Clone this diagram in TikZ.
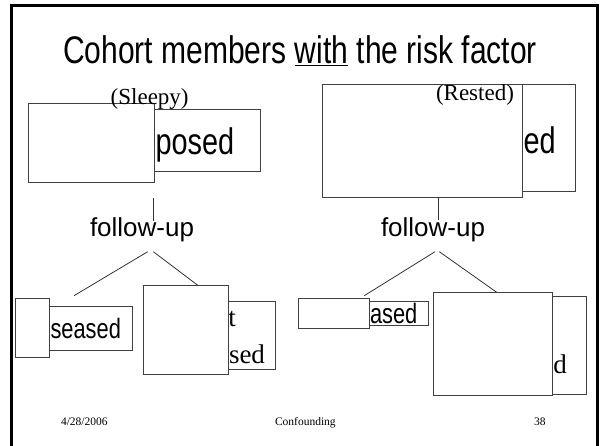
\documentclass[tikz,border=0pt]{standalone}
\usepackage{fontspec}
\setmainfont{Liberation Serif}
\newfontfamily\narrowsans{Liberation Sans}[FakeStretch=0.78]
\newfontfamily\plainsans{Liberation Sans}
\begin{document}
\begin{tikzpicture}[x=1pt,y=-1pt,
  boxstyle/.style={draw=black!75, line width=0.8pt, fill=white, inner sep=0pt, outer sep=0pt, anchor=north west},
  txt/.style={inner sep=0pt, outer sep=0pt, anchor=base west},
  bigsans/.style={txt, font=\narrowsans\fontsize{37}{40}\selectfont},
  midsans/.style={txt, font=\narrowsans\fontsize{28}{31}\selectfont},
  midserif/.style={txt, font=\fontsize{27}{30}\selectfont},
  labserif/.style={txt, font=\fontsize{23}{26}\selectfont},
  fusans/.style={txt, font=\plainsans\fontsize{26}{30}\selectfont},
  foot/.style={txt, font=\fontsize{11.5}{13}\selectfont},
  link/.style={draw=black!80, line width=0.8pt}]
\useasboundingbox (0,0) rectangle (600,446);
\fill[white] (0,0) rectangle (600,446);
% frame
\draw[line width=3pt, black] (11.5,6) -- (597,6) -- (597,470);
\draw[line width=3pt, black] (11.5,4.5) -- (11.5,470);
% title
\node[inner sep=0pt, anchor=base, font=\narrowsans\fontsize{38.5}{42}\selectfont] (title) at (300,64) {Cohort members \underline{with} the risk factor};
% back boxes and their texts
\node[boxstyle, minimum width=106.4pt, minimum height=62.7pt] (lb) at (154.3,109) {};
\node[bigsans] (tposed) at (155.5,155) {posed};
\node[boxstyle, minimum width=53pt, minimum height=107pt] (rb) at (522.7,84) {};
\node[bigsans] (ted) at (523.5,154) {ed};
\node[boxstyle, minimum width=83.4pt, minimum height=44pt] (blb) at (49.3,306) {};
\node[midsans] (tseased) at (50.5,338.3) {seased};
\node[boxstyle, minimum width=47.4pt, minimum height=67.6pt] (mb) at (228.3,301.7) {};
\node[midserif] (tt) at (228.3,326.7) {t};
\node[midserif] (tsed) at (229,363.3) {sed};
\node[boxstyle, minimum width=59.3pt, minimum height=24pt] (brlb) at (369,301) {};
\node[midsans] (tased) at (370,323.3) {ased};
\node[boxstyle, minimum width=33.7pt, minimum height=98pt] (brb) at (552.3,296) {};
\node[midserif] (td) at (553.3,373.3) {d};
% front boxes
\node[boxstyle, minimum width=126pt, minimum height=79pt] (lf) at (28.3,103.3) {};
\node[boxstyle, minimum width=200.4pt, minimum height=113.3pt] (rf) at (322.3,84) {};
\node[boxstyle, minimum width=34.3pt, minimum height=59pt] (blf) at (15,298.3) {};
\node[boxstyle, minimum width=85pt, minimum height=88.3pt] (mf) at (143.3,285.7) {};
\node[boxstyle, minimum width=70.7pt, minimum height=30pt] (brlf) at (298.3,298.3) {};
\node[boxstyle, minimum width=119pt, minimum height=103.4pt] (brf) at (433.3,292.3) {};
% labels
\node[labserif] (sleepy) at (110.7,104.5) {(Sleepy)};
\node[labserif] (rested) at (436,100.5) {(Rested)};
% follow-up
\node[fusans] (fuL) at (90,236.7) {follow-up};
\node[fusans] (fuR) at (381,236.7) {follow-up};
% connectors
\coordinate (vlA) at (153.3,198.3);
\coordinate (vlB) at (153.3,221.5);
\draw[link] (vlA) -- (vlB);
\coordinate (vrB) at (438.3,220);
\draw[link] (rf.south west -| vrB) -- (vrB);
\coordinate (l1a) at (147.7,251.7);
\coordinate (l1b) at (74,295.7);
\coordinate (l2a) at (153.3,251.7);
\coordinate (l2b) at (198.3,285.7);
\draw[link] (l1a) -- (l1b);
\draw[link] (l2a) -- (l2b);
\coordinate (r1a) at (435,251.7);
\coordinate (r1b) at (364.3,295.7);
\coordinate (r2a) at (439.3,251.7);
\coordinate (r2b) at (496.7,292.3);
\draw[link] (r1a) -- (r1b);
\draw[link] (r2a) -- (r2b);
% footer
\node[foot] (date) at (61,425) {4/28/2006};
\node[foot] (conf) at (275,425) {Confounding};
\node[foot] (num) at (534,425) {38};
\end{tikzpicture}
\end{document}
